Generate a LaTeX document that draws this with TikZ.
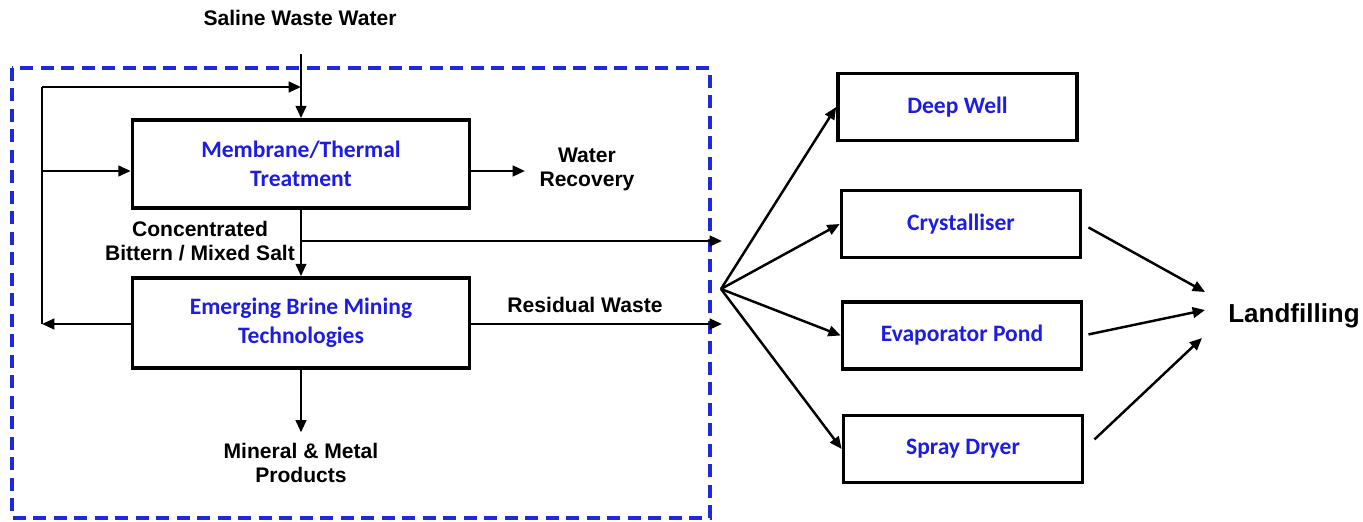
\documentclass[tikz,border=0pt]{standalone}
\usepackage{fontspec}
\setmainfont{Liberation Sans}
\newfontfamily\calfont{Carlito}
\usetikzlibrary{arrows.meta}
\definecolor{BoxBlue}{RGB}{28,28,228}
\definecolor{FrameBlue}{RGB}{30,40,220}

\begin{document}
\begin{tikzpicture}[x=0.02cm, y=-0.02cm]
\useasboundingbox (0,0) rectangle (1363,521);

\tikzset{BoxStyle/.style = {
 draw = black,
 line width = 2.1pt,
 font = \calfont\bfseries\fontsize{13.4}{16.5}\selectfont,
 text = BoxBlue,
 align = center,
 inner sep = 0pt} }
\tikzset{LabelStyle/.style = {
 font = \bfseries\fontsize{12}{13.6}\selectfont,
 align = center,
 inner sep = 2pt} }
\tikzset{ArrowStyle/.style = {line width=1.4pt, -{Triangle[length=7pt,width=6pt]}} }
\tikzset{LineStyle/.style = {line width=1.4pt} }

\draw[FrameBlue, line width=1.8pt, dash pattern=on 0.26cm off 0.15cm] (12,68) rectangle (710,518);

\node[LabelStyle] (SWW) at (300,18) {Saline Waste Water};
\node[BoxStyle, minimum width=6.74cm, minimum height=1.76cm] (MT) at (301,164) {Membrane/Thermal\\Treatment};
\node[BoxStyle, minimum width=6.74cm, minimum height=1.80cm] (EB) at (301,323) {Emerging Brine Mining\\Technologies};
\node[LabelStyle] (WR) at (587,169) {Water\\Recovery};
\node[LabelStyle] (CB) at (200,241) {Concentrated\\Bittern / Mixed Salt};
\node[LabelStyle] (RW) at (585,305) {Residual Waste};
\node[LabelStyle] (MMP) at (301,463) {Mineral \& Metal\\Products};

\node[BoxStyle, minimum width=4.78cm, minimum height=1.34cm] (DW) at (957.5,107) {Deep Well};
\node[BoxStyle, minimum width=4.78cm, minimum height=1.34cm] (CR) at (961,224) {Crystalliser};
\node[BoxStyle, minimum width=4.78cm, minimum height=1.34cm] (EP) at (962,335.5) {Evaporator Pond};
\node[BoxStyle, minimum width=4.78cm, minimum height=1.34cm] (SD) at (963,449) {Spray Dryer};
\node[LabelStyle, font=\bfseries\fontsize{14.8}{16}\selectfont] (LF) at (1294,316) {Landfilling};

\coordinate (J_1) at (301,87);
\coordinate (J_2) at (301,241);
\coordinate (L_1) at (42,87);
\coordinate (L_3) at (42,324);
\coordinate (WR_1) at (525,171);
\coordinate (O_1) at (722,241);
\coordinate (O_2) at (722,324);
\coordinate (Fan) at (721,289);
\coordinate (LF_1) at (1205,292);
\coordinate (LF_2) at (1205,310);
\coordinate (LF_3) at (1202,338);

\draw[ArrowStyle, shorten <=14pt] (SWW.south -| MT.north) -- (MT.north);
\draw[ArrowStyle] (EB.west |- L_3) -- (L_3);
\draw[LineStyle] (L_3) -- (L_1);
\draw[ArrowStyle] (L_1) -- (J_1);
\draw[ArrowStyle] (L_1 |- WR_1) -- (MT.west |- WR_1);
\draw[ArrowStyle] (MT.east |- WR_1) -- (WR_1);
\draw[ArrowStyle] (MT.south) -- (EB.north);
\draw[ArrowStyle] (J_2) -- (O_1);
\draw[ArrowStyle] (EB.east |- O_2) -- (O_2);
\draw[ArrowStyle, shorten >=4pt] (EB.south) -- (MMP.north);

\draw[ArrowStyle] (Fan) -- (DW.west);
\draw[ArrowStyle] (Fan) -- (CR.west);
\draw[ArrowStyle] (Fan) -- (EP.west);
\draw[ArrowStyle] (Fan) -- (SD.west);

\draw[ArrowStyle, shorten <=4pt] (CR.east) -- (LF_1);
\draw[ArrowStyle, shorten <=3pt] (EP.east) -- (LF_2);
\draw[ArrowStyle, shorten <=8pt] (SD.east) -- (LF_3);

\end{tikzpicture}
\end{document}
